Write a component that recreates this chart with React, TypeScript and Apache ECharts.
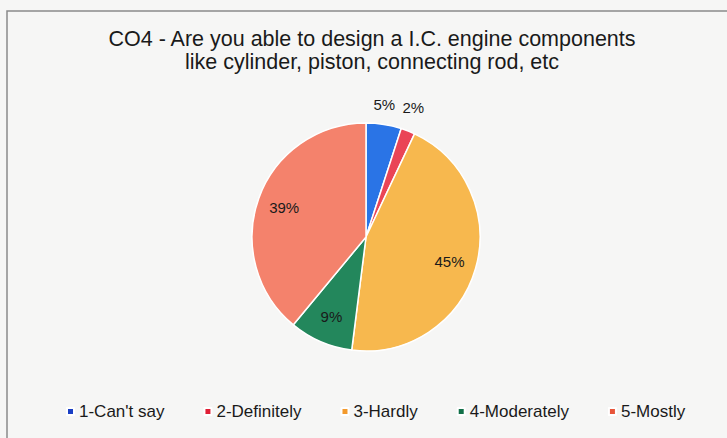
import React, { useEffect, useRef } from "react";
import * as echarts from "echarts";

const categories = ["1-Can't say", "2-Definitely", "3-Hardly", "4-Moderately", "5-Mostly"];
const values = [5, 2, 45, 9, 39];
const colors = ["#2a74e6", "#ea4556", "#f7b84e", "#23875c", "#f4826c"];
const legendColors = ["#1a3fc4", "#e01f36", "#f39a2c", "#127048", "#e8553a"];
const outsideLabels = [true, true, false, false, false];
const titleText = "CO4 - Are you able to design a I.C. engine components\nlike cylinder, piston, connecting rod, etc";

export default function App() {
  const ref = useRef<HTMLDivElement>(null);
  useEffect(() => {
    const chart = echarts.init(ref.current!, null, { renderer: "svg" });
    const font = "'Liberation Sans', Arial, sans-serif";
    const total = values.reduce((a, b) => a + b, 0);
    const fmt = (p: any) => Math.round((p.value / total) * 100) + "%";
    const outsideOffsets: Record<number, number[]> = { 0: [-16, -16], 1: [-12, -20] };
    chart.setOption({
      animation: false,
      backgroundColor: "#f6f6f5",
      graphic: [
        {
          type: "rect",
          shape: { x: 7, y: 11, width: 760, height: 460 },
          style: { fill: "none", stroke: "#8a8a8a", lineWidth: 1.5 },
          silent: true,
        },
      ],
      title: {
        text: titleText,
        left: 367,
        textAlign: "center",
        top: 22,
        textStyle: { fontFamily: font, fontSize: 21.5, fontWeight: "normal", color: "#1a1a1a", lineHeight: 23 },
      },
      legend: {
        top: 398,
        left: 61,
        icon: "rect",
        itemWidth: 7,
        itemHeight: 7,
        itemGap: 39,
        data: categories.map((name, i) => ({ name, itemStyle: { color: legendColors[i] } })),
        textStyle: { fontFamily: font, fontSize: 17, color: "#1a1a1a" },
      },
      series: [
        {
          type: "pie",
          radius: [0, 114],
          center: [366, 237],
          startAngle: 90,
          clockwise: true,
          silent: true,
          avoidLabelOverlap: false,
          emphasis: { disabled: true },
          itemStyle: { borderColor: "#ffffff", borderWidth: 1.5 },
          labelLine: { show: false, length: 4, length2: 0 },
          label: {
            position: "outside",
            fontFamily: font,
            fontSize: 15,
            color: "#1a1a1a",
            formatter: fmt,
          },
          data: categories.map((name, i) => ({
            name,
            value: values[i],
            itemStyle: { color: colors[i] },
            label: { show: outsideLabels[i], offset: outsideOffsets[i] || [0, 0] },
          })),
        },
        {
          type: "pie",
          radius: [54, 114],
          center: [366, 237],
          startAngle: 90,
          clockwise: true,
          silent: true,
          emphasis: { disabled: true },
          itemStyle: { color: "rgba(0,0,0,0)", borderWidth: 0 },
          labelLine: { show: false },
          label: {
            position: "inside",
            fontFamily: font,
            fontSize: 15,
            color: "#1a1a1a",
            formatter: fmt,
          },
          data: categories.map((name, i) => ({
            name,
            value: values[i],
            label: { show: !outsideLabels[i] },
          })),
        },
      ],
    });
    return () => chart.dispose();
  }, []);
  return (
    <div
      ref={ref}
      style={{ position: "absolute", left: 0, top: 0, width: 727, height: 438 }}
    />
  );
}
